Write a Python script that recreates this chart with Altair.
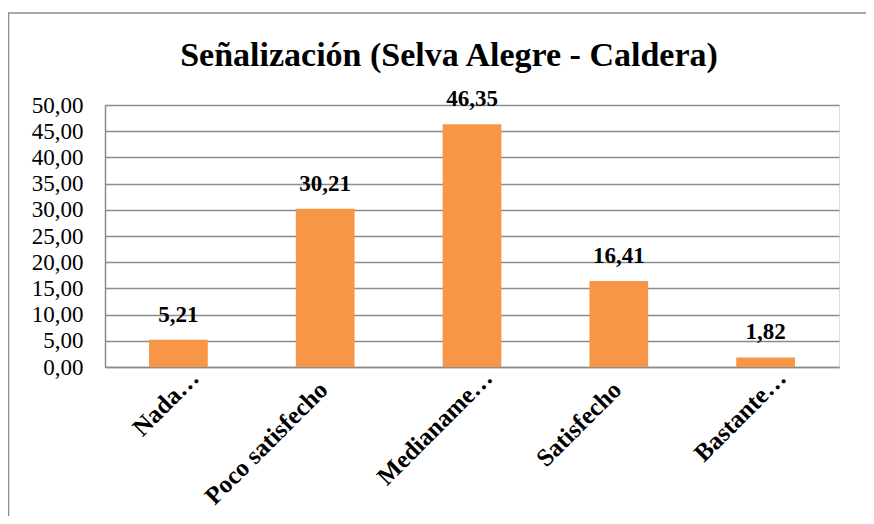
import altair as alt
import pandas as pd

categories = ["Nada…", "Poco satisfecho", "Medianame…", "Satisfecho", "Bastante…"]
values = [5.21, 30.21, 46.35, 16.41, 1.82]
title_text = "Señalización (Selva Alegre - Caldera)"

W, H = 734, 262
FONT = "Liberation Serif"
GRAY = "#8c8c8c"

df = pd.DataFrame({"cat": categories, "val": values})

x_enc = alt.X(
    "cat:N",
    sort=categories,
    scale=alt.Scale(paddingInner=0.6, paddingOuter=0.3),
    axis=alt.Axis(
        title=None,
        labelAngle=-45,
        labelAlign="right",
        labelBaseline="alphabetic",
        labelFont=FONT,
        labelFontSize=25,
        labelFontWeight="bold",
        labelColor="black",
        labelOffset={"condition": {"test": "indexof(datum.value, '…') >= 0", "value": 22}, "value": 4},
        labelPadding={"condition": {"test": "indexof(datum.value, '…') >= 0", "value": 12}, "value": 24},
        ticks=False,
        domainColor=GRAY,
        domainWidth=1.5,
        labelOverlap=False,
        labelLimit=400,
    ),
)

y_enc = alt.Y(
    "val:Q",
    scale=alt.Scale(domain=[0, 50], nice=False, zero=True),
    axis=alt.Axis(
        title=None,
        tickCount=10,
        labelExpr="replace(format(datum.value, '.2f'), '.', ',')",
        labelFont=FONT,
        labelFontSize=23,
        labelColor="black",
        labelPadding=22,
        ticks=False,
        domainColor=GRAY,
        domainWidth=1.5,
        gridColor=GRAY,
        gridWidth=1.5,
        labelOverlap=False,
    ),
)

base = alt.Chart(df)

bars = base.mark_bar(color="#F79646").encode(x=x_enc, y=y_enc)

labels = base.transform_calculate(
    lab="replace(format(datum.val, '.2f'), '.', ',')"
).mark_text(
    font=FONT, fontSize=23, fontWeight="bold", color="black",
    baseline="alphabetic", dy=-18
).encode(
    x=x_enc,
    y=y_enc,
    text="lab:N",
)

title = alt.Chart(pd.DataFrame({"t": [title_text]})).mark_text(
    font=FONT, fontSize=34, fontWeight="bold", color="black",
    baseline="alphabetic", align="center"
).encode(
    x=alt.value(449 - 105),
    y=alt.value(66 - 105),
    text="t:N",
)

frame = alt.Chart(pd.DataFrame({"a": [0]})).mark_rect(
    fill=None, stroke=GRAY, strokeWidth=1.5
).encode(
    x=alt.value(-96.5),
    x2=alt.value(W + 60),
    y=alt.value(-92),
    y2=alt.value(H + 200),
)

chart = alt.layer(frame, bars, labels, title).properties(
    width=W,
    height=H,
    autosize=alt.AutoSizeParams(type="none"),
    padding={"left": 97, "top": 97, "right": 27, "bottom": 149},
).configure_view(stroke=None).configure(background="white")

chart.save("out.html", embed_options={"renderer": "svg", "actions": False})
